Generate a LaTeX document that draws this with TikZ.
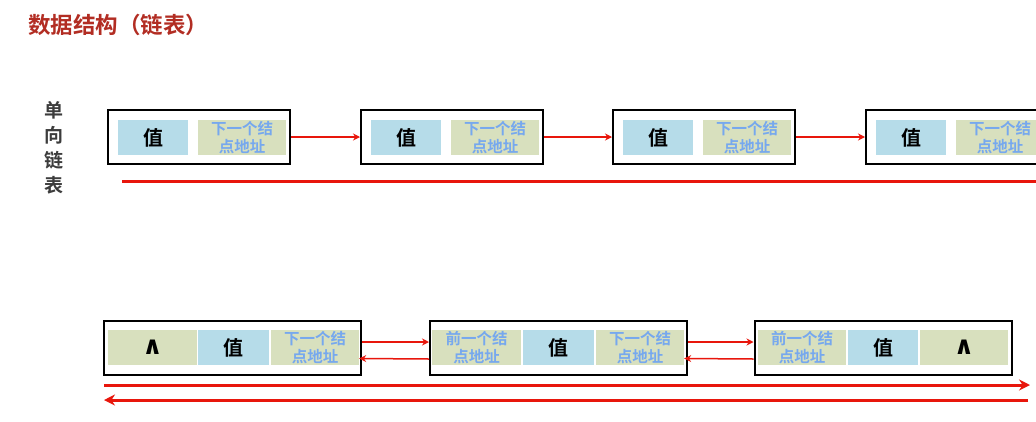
\documentclass[tikz,border=0pt]{standalone}
\usepackage{fontspec}
\newfontfamily\cjk{Noto Sans CJK SC}
\newfontfamily\cjkb{Noto Sans CJK SC Bold}
\newfontfamily\symb{DejaVu Sans}
\definecolor{titlered}{RGB}{178, 45, 35}
\definecolor{labelgrey}{RGB}{60, 60, 60}
\definecolor{valblue}{RGB}{182, 220, 233}
\definecolor{ptrgreen}{RGB}{216, 224, 190}
\definecolor{ptrtext}{RGB}{118, 168, 238}
\definecolor{linkred}{RGB}{232, 22, 12}
\usetikzlibrary{arrows.meta}

\begin{document}
\begin{tikzpicture}[x=1pt, y=-1pt,
    nodebox/.style={draw=black, line width=2pt, minimum height=54pt, inner sep=0pt},
    valcell/.style={fill=valblue, minimum width=70pt, minimum height=35pt, inner sep=0pt,
                    font=\cjkb\fontsize{20}{20}\selectfont},
    ptrcell/.style={fill=ptrgreen, minimum width=88pt, minimum height=35pt, inner sep=0pt,
                    align=center, text=ptrtext, font=\cjkb\fontsize{15.5}{17.5}\selectfont},
    nullcell/.style={fill=ptrgreen, minimum width=89pt, minimum height=35pt, inner sep=0pt,
                     font=\symb\bfseries\fontsize{25}{25}\selectfont},
    link/.style={-{Stealth[length=7pt, width=7pt]}, linkred, line width=1.5pt},
    route/.style={linkred, line width=3pt}]
    \clip (0, 0) rectangle (1036, 421);

    % title and side label
    \node[anchor=west, inner sep=0pt, text=titlered, font=\cjkb\fontsize{22.5}{23}\selectfont] (title) at (28, 25) {数据结构（链表）};
    \node[align=center, text=labelgrey, font=\cjkb\fontsize{19}{25}\selectfont] (kind) at (54, 148) {单\\向\\链\\表};

    % singly linked list
    \node[nodebox, minimum width=182pt] (box1) at (199, 137) {};
    \node[valcell] (val1) at (153, 137.5) {值};
    \node[ptrcell] (next1) at (242, 137.5) {下一个结\\点地址};
    \node[nodebox, minimum width=182pt] (box2) at (452, 137) {};
    \node[valcell] (val2) at (406, 137.5) {值};
    \node[ptrcell] (next2) at (495, 137.5) {下一个结\\点地址};
    \node[nodebox, minimum width=182pt] (box3) at (704, 137) {};
    \node[valcell] (val3) at (658, 137.5) {值};
    \node[ptrcell] (next3) at (747, 137.5) {下一个结\\点地址};
    \node[nodebox, minimum width=182pt] (box4) at (957, 137) {};
    \node[valcell] (val4) at (911, 137.5) {值};
    \node[ptrcell] (next4) at (1000, 137.5) {下一个结\\点地址};

    \draw[link] (box1.east) -- (box2.west);
    \draw[link] (box2.east) -- (box3.west);
    \draw[link] (box3.east) -- (box4.west);

    \coordinate (fwdS) at (122, 181);
    \coordinate (fwdE) at (1050, 181);
    \draw[route] (fwdS) -- (fwdE);

    % doubly linked list
    \node[nodebox, minimum width=257pt] (boxA) at (232.5, 348) {};
    \node[nullcell] (headA) at (152.5, 347.5) {∧};
    \node[valcell, minimum width=71pt] (valA) at (233.5, 347.5) {值};
    \node[ptrcell] (nextA) at (315, 347.5) {下一个结\\点地址};
    \node[nodebox, minimum width=257pt] (boxB) at (558.5, 348) {};
    \node[ptrcell, minimum width=89pt] (prevB) at (476.5, 347.5) {前一个结\\点地址};
    \node[valcell, minimum width=71pt] (valB) at (558.5, 347.5) {值};
    \node[ptrcell] (nextB) at (640, 347.5) {下一个结\\点地址};
    \node[nodebox, minimum width=257pt] (boxC) at (883, 348) {};
    \node[ptrcell] (prevC) at (802, 347.5) {前一个结\\点地址};
    \node[valcell] (valC) at (883, 347.5) {值};
    \node[nullcell, minimum width=88pt] (tailC) at (964, 347.5) {∧};

    \draw[link] ([yshift=6pt]boxA.east) -- ([yshift=6pt]boxB.west);
    \draw[link] ([yshift=-11pt]boxB.west) -- ([yshift=-11pt]nextA.east);
    \draw[link] ([yshift=6pt]boxB.east) -- ([yshift=6pt]boxC.west);
    \draw[link] ([yshift=-11pt]boxC.west) -- ([yshift=-11pt]nextB.east);

    \coordinate (twoS) at (104, 385);
    \coordinate (twoE) at (1030, 385);
    \coordinate (backS) at (1028, 400);
    \coordinate (backE) at (104, 400);
    \draw[route, -{Stealth[length=11pt, width=11pt]}] (twoS) -- (twoE);
    \draw[route, -{Stealth[length=11pt, width=11pt]}] (backS) -- (backE);
\end{tikzpicture}
\end{document}
